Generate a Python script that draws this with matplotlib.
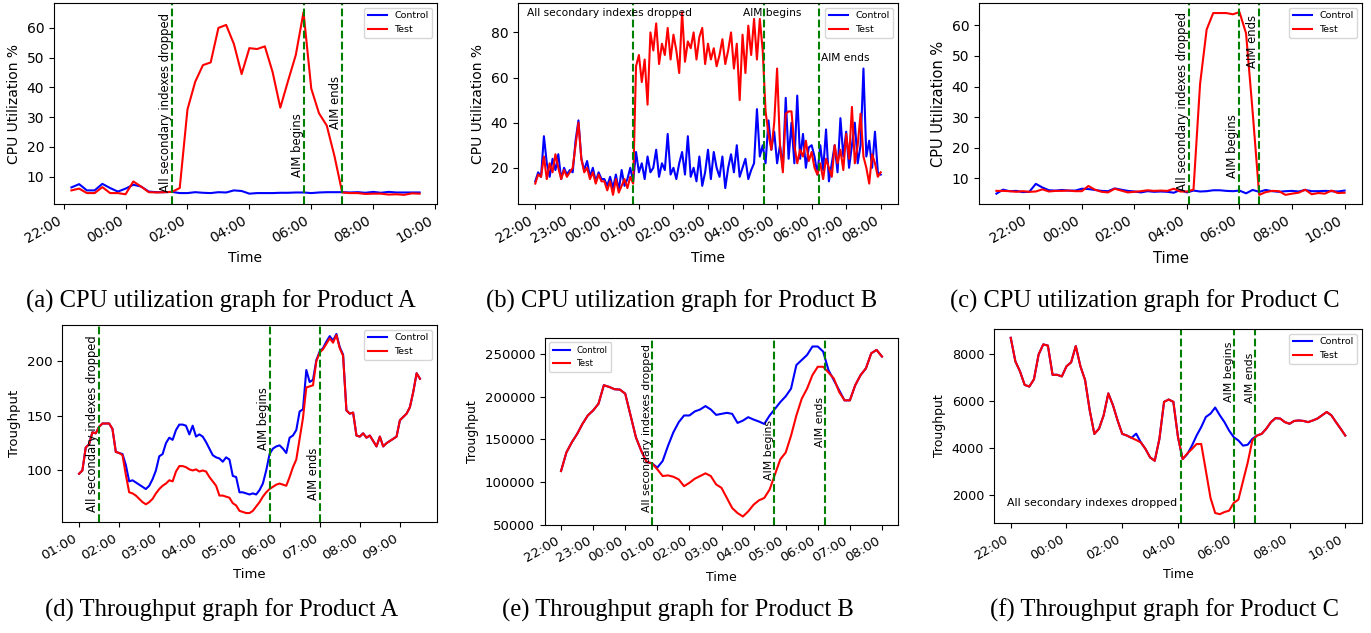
import matplotlib
matplotlib.use("Agg")
import matplotlib.pyplot as plt
import matplotlib.dates as mdates
from matplotlib.ticker import MultipleLocator
import pandas as pd
from datetime import datetime

plt.rcParams['font.family'] = ['DejaVu Sans']

# ---------------- data ----------------
# (a) CPU Product A, 15-min samples from 22:15
a_start = "22:15"
a_control = [6.4, 7.5, 5.4, 5.4, 7.6, 6.2, 5.0, 6.0, 7.3, 6.7,
             5.0, 4.8, 4.8, 4.9, 4.5, 4.5, 4.8, 4.6, 4.5, 4.8,
             4.7, 5.4, 5.2, 4.3, 4.5, 4.5, 4.5, 4.6, 4.6, 4.7,
             4.7, 4.5, 4.7, 4.8, 4.8, 4.8, 4.7, 4.8, 4.6, 4.9,
             4.6, 4.9, 4.7, 4.7, 4.7, 4.7]
a_test = [5.4, 6.0, 4.5, 4.5, 6.5, 4.5, 4.5, 4.1, 8.4, 6.7,
          4.8, 4.7, 4.8, 4.9, 6.2, 32.6, 41.9, 47.5, 48.4, 60.0,
          61.0, 54.6, 44.5, 53.2, 52.9, 53.8, 45.2, 33.2, 42.2, 50.9,
          65.3, 39.6, 31.3, 27.2, 16.9, 4.7, 4.5, 4.5, 4.2, 4.3,
          4.3, 4.0, 4.1, 3.9, 4.4, 4.3]
a_events = ["01:30", "05:45", "07:00"]

# (b) CPU Product B, 5-min samples from 22:00
b_start = "22:00"
b_control = [14, 18, 16, 34, 22, 16, 24, 19, 26, 15, 20, 17,
             19, 18, 32, 41, 24, 19, 23, 16, 20, 14, 18, 15,
             15, 12, 16, 11, 17, 10, 19, 12, 15, 20, 14, 27,
             18, 22, 15, 25, 18, 20, 28, 16, 22, 19, 35, 17,
             20, 15, 22, 27, 17, 34, 16, 20, 14, 25, 12, 18,
             28, 15, 27, 20, 16, 25, 11, 20, 26, 18, 30, 16,
             20, 24, 15, 19, 22, 46, 25, 30, 22, 41, 28, 36,
             22, 30, 20, 51, 24, 40, 22, 52, 24, 35, 20, 29,
             30, 25, 17, 30, 19, 37, 14, 22, 30, 18, 42, 25,
             36, 20, 30, 40, 22, 30, 64, 25, 32, 20, 36, 18,
             17]
b_test = [13, 17, 16, 25, 15, 22, 18, 26, 20, 15, 19, 16,
          18, 20, 30, 40, 24, 18, 20, 15, 18, 13, 17, 14,
          14, 10, 14, 8, 15, 9, 12, 15, 11, 16, 13, 65,
          70, 58, 68, 48, 80, 72, 84, 66, 75, 70, 82, 68,
          79, 72, 62, 89, 67, 76, 73, 80, 68, 78, 82, 66,
          75, 68, 73, 65, 70, 77, 66, 72, 80, 64, 75, 50,
          79, 62, 83, 70, 86, 68, 86, 72, 45, 35, 28, 40,
          64, 30, 18, 44, 45, 45, 30, 22, 28, 25, 32, 23,
          27, 20, 17, 22, 15, 24, 20, 16, 30, 22, 28, 19,
          35, 24, 47, 22, 30, 44, 25, 20, 13, 26, 22, 16,
          18]
b_events = ["00:50", "04:38", "06:13"]

# (c) CPU Product C, 15-min samples from 20:45
c_start = "20:45"
c_control = [5.0, 6.3, 5.8, 5.9, 5.5, 5.6, 8.2, 7.0, 6.1, 6.0,
             6.2, 6.0, 6.0, 6.6, 6.5, 6.2, 5.9, 5.8, 6.7, 6.3,
             5.9, 5.7, 5.4, 5.8, 5.6, 5.7, 5.6, 5.3, 6.2, 5.4,
             6.0, 5.7, 5.8, 6.1, 6.1, 5.9, 5.8, 6.0, 5.1, 6.2,
             5.6, 6.2, 5.8, 5.6, 5.8, 5.9, 5.7, 6.2, 5.8, 5.8,
             5.9, 5.8, 5.7, 6.0]
c_test = [5.9, 5.9, 5.8, 5.6, 5.8, 5.6, 5.7, 6.4, 5.7, 5.9,
          5.9, 6.0, 5.8, 5.8, 7.5, 6.3, 5.6, 5.4, 6.6, 6.0,
          5.4, 5.6, 5.8, 6.1, 5.9, 6.0, 5.9, 6.6, 5.7, 5.7,
          6.3, 40.8, 58.6, 64.0, 64.0, 64.0, 63.6, 64.3, 57.4, 31.8,
          4.6, 5.5, 5.9, 5.8, 4.6, 5.0, 5.3, 6.3, 4.8, 5.2,
          5.0, 6.0, 5.2, 5.3]
c_events = ["04:05", "06:00", "06:45"]

# (d) Throughput Product A, 5-min samples from 01:00
d_start = "01:00"
d_control = [97, 100, 121, 124, 135, 134, 140, 143, 143, 143,
             138, 117, 116, 115, 105, 90, 91, 89, 87, 85,
             83, 86, 92, 100, 113, 115, 125, 130, 128, 137,
             142, 142, 141, 133, 141, 131, 133, 131, 126, 120,
             114, 112, 111, 108, 112, 110, 95, 94, 80, 80,
             79, 78, 79, 78, 82, 88, 100, 115, 120, 122,
             123, 120, 116, 130, 132, 137, 154, 156, 192, 181,
             183, 201, 209, 212, 218, 223, 219, 225, 213, 206,
             155, 152, 153, 132, 131, 134, 130, 132, 127, 122,
             131, 122, 125, 127, 129, 131, 146, 149, 152, 158,
             172, 189, 184]
d_test = [97, 100, 121, 124, 135, 134, 140, 143, 143, 143,
          138, 117, 116, 114, 96, 80, 79, 77, 74, 71,
          69, 71, 74, 79, 83, 86, 88, 91, 90, 99,
          104, 104, 103, 101, 100, 101, 99, 100, 99, 94,
          90, 86, 77, 77, 76, 75, 70, 68, 63, 62,
          61, 61, 63, 67, 71, 76, 80, 83, 85, 87,
          88, 87, 86, 94, 103, 110, 129, 148, 176, 177,
          178, 200, 208, 211, 216, 221, 217, 224, 212, 205,
          155, 152, 153, 132, 131, 134, 130, 132, 127, 122,
          131, 122, 125, 127, 129, 131, 146, 149, 152, 158,
          172, 189, 184]
d_events = ["01:30", "05:45", "07:00"]

# (e) Throughput Product B, 10-min samples from 22:00
e_start = "22:00"
e_control = [113000, 134700, 146500, 156300, 168100, 178000,
             183900, 191700, 213400, 211400, 208700, 208300,
             203500, 178000, 152400, 136600, 123600, 122000,
             117000, 124800, 142500, 158300, 170100, 178000,
             178000, 182700, 185000, 189000, 185000, 178700,
             179900, 181100, 179900, 169300, 172000, 176000,
             173200, 170900, 168100, 178000, 185800, 193700,
             200400, 209400, 237000, 242900, 248800, 258700,
             258700, 252800, 231100, 219300, 207500, 195700,
             195700, 213400, 225200, 233100, 250800, 254700,
             246900]
e_test = [113000, 134700, 146500, 156300, 168100, 178000,
          183900, 191700, 213400, 211400, 208700, 208300,
          203500, 178000, 152400, 136600, 123600, 122000,
          115000, 107100, 107900, 106300, 103200, 95300,
          99200, 104000, 107100, 110300, 107100, 97300,
          93300, 81500, 69700, 63800, 59800, 65800,
          73600, 78700, 81500, 91300, 109100, 126800,
          134600, 154300, 178000, 197600, 209400, 225200,
          235000, 235000, 228300, 221300, 205500, 195700,
          195700, 213400, 225200, 233100, 250800, 254700,
          246900]
e_events = ["00:50", "04:38", "06:13"]

# (f) Throughput Product C, 10-min samples from 22:00
f_start = "22:00"
f_control = [8670, 7670, 7240, 6670, 6600, 6910, 7960, 8390, 8340, 7100,
             7100, 7030, 7460, 7630, 8320, 7460, 6880, 5590, 4590, 4810,
             5380, 6310, 5810, 5160, 4590, 4520, 4420, 4600, 4230, 3950,
             3590, 3450, 4380, 5950, 6050, 5950, 4450, 3520, 3730, 4090,
             4520, 4880, 5310, 5450, 5710, 5380, 5090, 4730, 4450, 4310,
             4090, 4130, 4380, 4520, 4590, 4810, 5090, 5260, 5240, 5090,
             5020, 5140, 5160, 5140, 5090, 5160, 5240, 5380, 5520, 5380,
             5090, 4810, 4520]
f_test = [8670, 7670, 7240, 6670, 6600, 6910, 7960, 8390, 8340, 7100,
          7100, 7030, 7460, 7630, 8320, 7460, 6880, 5590, 4590, 4810,
          5380, 6310, 5810, 5160, 4590, 4520, 4420, 4330, 4230, 3950,
          3590, 3450, 4380, 5950, 6050, 5950, 4450, 3520, 3760, 3950,
          4160, 4160, 3020, 1870, 1230, 1180, 1270, 1330, 1660, 1800,
          2590, 3370, 4310, 4520, 4590, 4810, 5090, 5260, 5240, 5090,
          5020, 5140, 5160, 5140, 5090, 5160, 5240, 5380, 5520, 5380,
          5090, 4810, 4520]
f_events = ["04:06", "06:00", "06:46"]

captions = ["(a) CPU utilization graph for Product A",
            "(b) CPU utilization graph for Product B",
            "(c) CPU utilization graph for Product C",
            "(d) Throughput graph for Product A",
            "(e) Throughput graph for Product B",
            "(f) Throughput graph for Product C"]


def t(hm):
    h, m = map(int, hm.split(":"))
    day = 1 if h >= 12 else 2
    return datetime(2023, 1, day, h, m)


def times(start, n, freq):
    return pd.date_range(t(start), periods=n, freq=freq)


W, H = 1371, 633
fig = plt.figure(figsize=(W / 100, H / 100), dpi=100)


def add_ax(l, r, top, bot):
    return fig.add_axes([l / W, 1 - bot / H, (r - l) / W, (bot - top) / H])


def setup(ax, tick_hours, ylabel, tfs, lfs, legfs, legloc):
    ax.xaxis.set_major_locator(mdates.HourLocator(byhour=tick_hours))
    ax.xaxis.set_major_formatter(mdates.DateFormatter("%H:%M"))
    ax.tick_params(axis="both", labelsize=tfs)
    plt.setp(ax.get_xticklabels(), rotation=30, ha="right")
    ax.set_xlabel("Time", fontsize=lfs)
    ax.set_ylabel(ylabel, fontsize=lfs)
    ax.legend(loc=legloc, fontsize=legfs)


def draw(ax, tt, ctrl, test, events):
    ax.plot(tt, ctrl, color="blue", lw=1.5, label="Control")
    ax.plot(tt, test, color="red", lw=1.5, label="Test")
    for ev in events:
        ax.axvline(t(ev), color="green", ls="--", lw=1.5)


def vtext(ax, x, y, s, fs):
    ax.text(x, y, s, rotation=90, ha="right", va="bottom", fontsize=fs)


every2 = list(range(0, 24, 2))
every1 = list(range(24))

# (a)
ax = add_ax(54, 437, 3, 204)
draw(ax, times(a_start, len(a_test), "15min"), a_control, a_test, a_events)
vtext(ax, t(a_events[0]), 5.0, "All secondary indexes dropped", 8.4)
vtext(ax, t(a_events[1]), 10.0, "AIM begins", 8.4)
vtext(ax, t(a_events[2]), 26.0, "AIM ends", 8.4)
setup(ax, every2, "CPU Utilization %", 10, 10, 6.8, "upper right")

# (b)
ax = add_ax(518, 898, 3, 204)
draw(ax, times(b_start, len(b_test), "5min"), b_control, b_test, b_events)
ax.text(t("21:46"), 88.7, "All secondary indexes dropped", ha="left", va="center", fontsize=7.7)
ax.text(t("04:00"), 88.7, "AIM begins", ha="left", va="center", fontsize=7.7)
ax.text(t("06:16"), 68.5, "AIM ends", ha="left", va="center", fontsize=7.7)
setup(ax, every1, "CPU Utilization %", 10, 10, 6.8, "upper right")

# (c)
ax = add_ax(979, 1362, 3, 204)
draw(ax, times(c_start, len(c_test), "15min"), c_control, c_test, c_events)
vtext(ax, t(c_events[0]), 5.9, "All secondary indexes dropped", 8.4)
vtext(ax, t(c_events[1]), 10.2, "AIM begins", 8.4)
vtext(ax, t(c_events[2]), 46.0, "AIM ends", 8.4)
setup(ax, every2, "CPU Utilization %", 10, 10.5, 6.8, "upper right")

# (d)
ax = add_ax(62, 437, 325, 522)
draw(ax, times(d_start, len(d_test), "5min"), d_control, d_test, d_events)
vtext(ax, t(d_events[0]), 62, "All secondary indexes dropped", 8.3)
vtext(ax, t(d_events[1]), 118.7, "AIM begins", 8.3)
vtext(ax, t(d_events[2]), 72.7, "AIM ends", 8.3)
ax.yaxis.set_major_locator(MultipleLocator(50))
setup(ax, every1, "Troughput", 9.7, 9.5, 6.8, "upper right")

# (e)
ax = add_ax(545, 898, 338, 525)
draw(ax, times(e_start, len(e_test), "10min"), e_control, e_test, e_events)
vtext(ax, t(e_events[0]), 64600, "All secondary indexes dropped", 7.8)
vtext(ax, t(e_events[1]), 102000, "AIM begins", 7.8)
vtext(ax, t(e_events[2]), 141300, "AIM ends", 7.8)
setup(ax, every1, "Troughput", 9.5, 9, 6.2, "upper left")

# (f)
ax = add_ax(994, 1362, 329, 523)
draw(ax, times(f_start, len(f_test), "10min"), f_control, f_test, f_events)
ax.text(t("03:59"), 1660, "All secondary indexes dropped", ha="right", va="center", fontsize=7.9)
vtext(ax, t(f_events[1]), 5950, "AIM begins", 7.9)
vtext(ax, t(f_events[2]), 5900, "AIM ends", 7.9)
setup(ax, every2, "Troughput", 9.2, 9, 6.8, "upper right")

# captions
cap_pos = [(221, 308), (682, 308), (1145, 308), (222, 617), (678, 617), (1165, 617)]
for (cx, cy), cap in zip(cap_pos, captions):
    fig.text(cx / W, 1 - cy / H, cap, ha="center", va="baseline",
             family="Liberation Serif", fontsize=17.7)

fig.savefig("out.png", dpi=100)
